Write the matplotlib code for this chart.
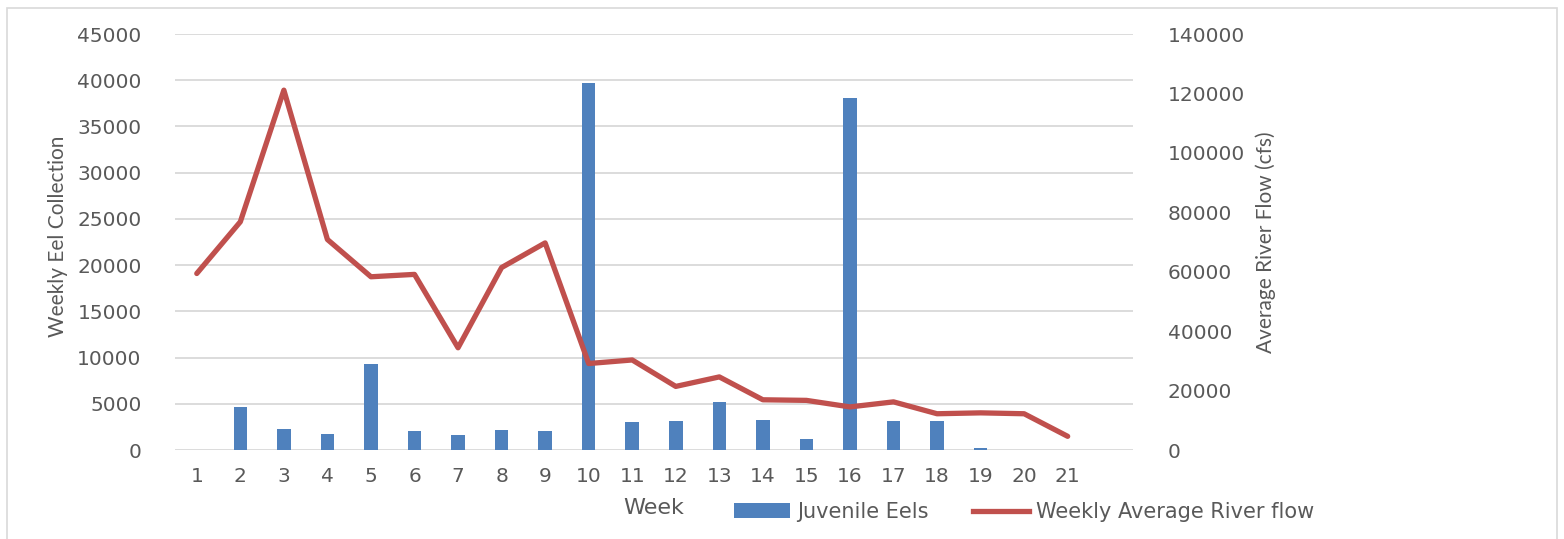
import matplotlib
matplotlib.use('Agg')
import matplotlib.pyplot as plt
from matplotlib.patches import Patch, Rectangle
from matplotlib.lines import Line2D

# weekly data
weeks = list(range(1, 22))
eels = [0, 4600, 2240, 1770, 9350, 2060, 1660, 2170, 2020, 39660, 3070,
        3100, 5200, 3210, 1150, 38070, 3100, 3100, 200, 0, 0]
flow = [59400, 76800, 121100, 70850, 58300, 59100, 34400, 61400, 69700, 29100, 30300,
        21400, 24600, 16900, 16700, 14500, 16200, 12200, 12500, 12200, 4600]
left_ticks = list(range(0, 45001, 5000))
right_ticks = list(range(0, 140001, 20000))

BLUE = '#4F81BD'
RED = '#C0504D'
GREY = '#595959'
GRID = '#D9D9D9'
TICK_FS = 14.5

W, H = 1564, 539
fig = plt.figure(figsize=(W / 100, H / 100), dpi=100)
fig.patches.append(Rectangle((7 / W, -0.01), (1557 - 7) / W, 1 - 8 / H + 0.01,
                             transform=fig.transFigure, fill=False,
                             edgecolor=GRID, lw=1.2))

ax = fig.add_axes([175 / W, 1 - 450 / H, (1133 - 175) / W, (450 - 34) / H])
ax.bar(weeks, eels, width=0.31, color=BLUE, zorder=2)
ax.set_xlim(0.5, 22.5)
ax.set_ylim(0, 45000)
ax.set_yticks(left_ticks)
ax.set_xticks(weeks)
ax.grid(axis='y', color=GRID, lw=1.3, zorder=0)
ax.set_axisbelow(True)
for s in ax.spines.values():
    s.set_visible(False)
ax.tick_params(length=0, colors=GREY, labelsize=TICK_FS)
ax.tick_params(axis='y', pad=24)
ax.tick_params(axis='x', pad=12.5)

ax2 = ax.twinx()
ax2.plot(weeks, flow, color=RED, lw=3.8, solid_joinstyle='round',
         solid_capstyle='round', zorder=3)
ax2.set_ylim(0, 140000)
ax2.set_yticks(right_ticks)
for s in ax2.spines.values():
    s.set_visible(False)
ax2.tick_params(length=0, colors=GREY, labelsize=TICK_FS, pad=25)

fig.text(58 / W, 1 - 236 / H, 'Weekly Eel Collection', rotation=90,
         ha='center', va='center', color=GREY, fontsize=15, family='Lato')
fig.text(1266 / W, 1 - 242 / H, 'Average River Flow (cfs)', rotation=90,
         ha='center', va='center', color=GREY, fontsize=15, family='Lato')
fig.text(654 / W, 1 - 508 / H, 'Week', ha='center', va='center',
         color=GREY, fontsize=16)

handles = [Patch(facecolor=BLUE, label='Juvenile Eels'),
           Line2D([], [], color=RED, lw=3.8, label='Weekly Average River flow')]
fig.legend(handles=handles, loc='center left', ncol=2, frameon=False,
           bbox_to_anchor=(734 / W, 1 - 512 / H), fontsize=15,
           handlelength=2.7, handletextpad=0.35, columnspacing=2.1,
           labelcolor=GREY, borderaxespad=0, borderpad=0)

fig.savefig('out.png', dpi=100)
